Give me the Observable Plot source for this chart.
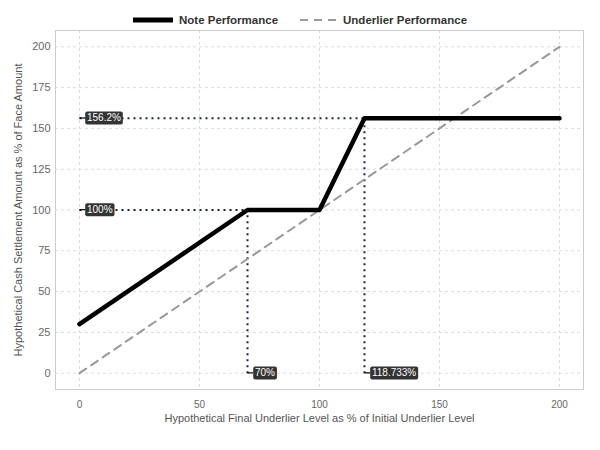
<!DOCTYPE html>
<html><head><meta charset="utf-8">
<script src="https://cdn.jsdelivr.net/npm/d3@7"></script>
<script src="https://cdn.jsdelivr.net/npm/@observablehq/plot@0.6"></script>
<style>
body{margin:0;background:#fff;font-family:"Liberation Sans",Arial,sans-serif;}
#legend{height:25px;padding-top:14px;box-sizing:border-box;display:flex;justify-content:center;align-items:center;font-weight:bold;font-size:11.5px;color:#333;}
.item{display:flex;align-items:center;}
.item svg{margin-right:6px;}
</style></head><body>
<div id="legend">
  <div class="item"><svg width="40" height="8"><line x1="0" x2="40" y1="4" y2="4" stroke="#000" stroke-width="5"/></svg><span>Note Performance</span></div>
  <div class="item" style="margin-left:22px"><svg width="37" height="8"><line x1="0" x2="37" y1="4" y2="4" stroke="#999" stroke-width="2" stroke-dasharray="8,6"/></svg><span>Underlier Performance</span></div>
</div>
<div id="chart"></div>
<script>
// Data
const noteX = [0, 70, 100, 118.733, 200];
const noteY = [30, 100, 100, 156.2, 156.2];
const underX = [0, 200];
const underY = [0, 200];
const kinkX = [70, 118.733];
const kinkY = [100, 156.2];
const xTicks = [0, 50, 100, 150, 200];
const yTicks = [0, 25, 50, 75, 100, 125, 150, 175, 200];
const xTitle = "Hypothetical Final Underlier Level as % of Initial Underlier Level";
const yTitle = "Hypothetical Cash Settlement Amount as % of Face Amount";

const note = noteX.map((x, i) => ({x, y: noteY[i]}));
const under = underX.map((x, i) => ({x, y: underY[i]}));
const guides = [];
kinkX.forEach((kx, i) => {
  guides.push({x1: 0, y1: kinkY[i], x2: kx, y2: kinkY[i]});
  guides.push({x1: kx, y1: 0, x2: kx, y2: kinkY[i]});
});
const labels = [
  ...kinkY.map(v => ({x: 0, y: v, t: v + "%"})),
  ...kinkX.map(v => ({x: v, y: 0, t: v + "%"}))
];
const DX = 7.5;

const chart = Plot.plot({
  width: 600, height: 420,
  marginTop: 5, marginBottom: 56, marginLeft: 55, marginRight: 17,
  style: {fontFamily: "Liberation Sans, Arial, sans-serif", fontSize: "10px", color: "#666", background: "white", overflow: "visible"},
  x: {domain: [-10, 210]},
  y: {domain: [-10, 210]},
  marks: [
    Plot.gridX(xTicks, {stroke: "#dcdcdc", strokeOpacity: 1, strokeDasharray: "3,3"}),
    Plot.gridY(yTicks, {stroke: "#dcdcdc", strokeOpacity: 1, strokeDasharray: "3,3"}),
    Plot.frame({stroke: "#cccccc"}),
    Plot.axisX(xTicks, {tickSize: 0, tickPadding: 11, fill: "#666", label: null}),
    Plot.axisY(yTicks, {tickSize: 0, tickPadding: 5, fill: "#666", fontSize: 11, label: null}),
    Plot.text([xTitle], {frameAnchor: "bottom", dy: 32, fill: "#555", fontSize: 11}),
    Plot.text([yTitle], {frameAnchor: "left", dx: -37, rotate: -90, textAnchor: "middle", fill: "#555", fontSize: 11}),
    Plot.link(guides, {x1: "x1", y1: "y1", x2: "x2", y2: "y2", stroke: "#1c2540", strokeWidth: 2, strokeDasharray: "2,4"}),
    Plot.line(under, {x: "x", y: "y", stroke: "#999", strokeWidth: 2, strokeDasharray: "8,6"}),
    Plot.line(note, {x: "x", y: "y", stroke: "#000", strokeWidth: 4.5}),
    Plot.text(labels, {x: "x", y: "y", text: "t", dx: DX, textAnchor: "start", lineAnchor: "middle", fill: "white", fontSize: 10})
  ]
});
document.getElementById("chart").appendChild(chart);

// label boxes and leaders
const labelTexts = new Set(labels.map(d => d.t));
d3.select(chart).selectAll("text").filter(function() {
  return labelTexts.has(this.textContent) && this.closest('g[fill="white"]');
}).each(function() {
  const b = this.getBBox();
  const tr = this.getAttribute("transform");
  const parent = this.parentNode;
  const ns = "http://www.w3.org/2000/svg";
  const pad = 1.8, h = 13;
  const cy = b.y + b.height / 2;
  const rect = document.createElementNS(ns, "rect");
  rect.setAttribute("x", b.x - pad);
  rect.setAttribute("y", cy - h / 2);
  rect.setAttribute("width", b.width + 2 * pad);
  rect.setAttribute("height", h);
  rect.setAttribute("rx", 2);
  rect.setAttribute("fill", "#333");
  if (tr) rect.setAttribute("transform", tr);
  const line = document.createElementNS(ns, "line");
  line.setAttribute("x1", b.x - DX);
  line.setAttribute("x2", b.x - pad);
  line.setAttribute("y1", cy);
  line.setAttribute("y2", cy);
  line.setAttribute("stroke", "#000");
  line.setAttribute("stroke-width", 1.2);
  if (tr) line.setAttribute("transform", tr);
  parent.insertBefore(line, this);
  parent.insertBefore(rect, this);
});
</script>
</body></html>
